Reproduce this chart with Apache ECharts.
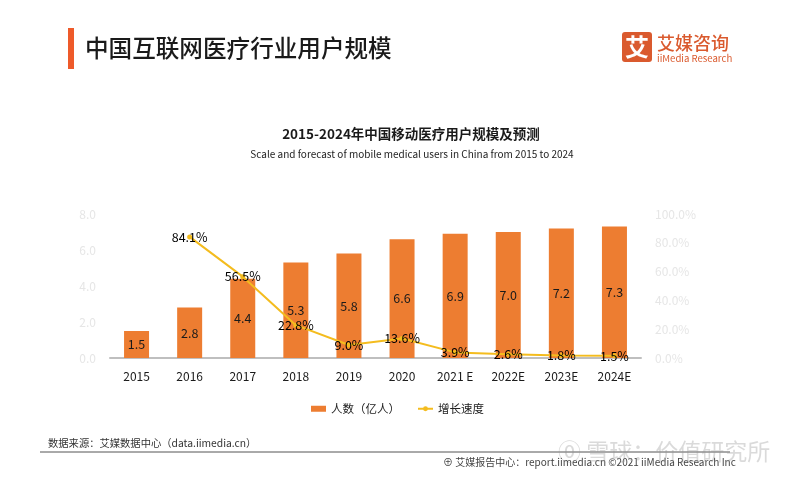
<!DOCTYPE html>
<html><head><meta charset="utf-8">
<script src="https://cdn.jsdelivr.net/npm/echarts@6/dist/echarts.min.js"></script>
<style>html,body{margin:0;padding:0;background:#fff}#c{width:800px;height:479px}</style>
</head><body><div id="c"></div>
<script>
var categories = ['2015','2016','2017','2018','2019','2020','2021 E','2022E','2023E','2024E'];
var users = [1.5, 2.8, 4.4, 5.3, 5.8, 6.6, 6.9, 7.0, 7.2, 7.3];
var growth = [null, 84.1, 56.5, 22.8, 9.0, 13.6, 3.9, 2.6, 1.8, 1.5];
var seriesNames = ['人数（亿人）', '增长速度'];

var FONT = '"Noto Sans CJK SC", "Noto Sans", sans-serif';
var chart = echarts.init(document.getElementById('c'), null, {renderer: 'canvas'});
chart.setOption({
  backgroundColor: '#fff',
  textStyle: {fontFamily: FONT},
  title: [
    {text: '2015-2024年中国移动医疗用户规模及预测', left: 406, top: 122, textAlign: 'center',
     textStyle: {fontSize: 13.5, fontWeight: 'bold', color: '#1a1a1a', fontFamily: FONT}},
    {text: 'Scale and forecast of mobile medical users in China from 2015 to 2024', left: 407, top: 144, textAlign: 'center',
     textStyle: {fontSize: 10, fontWeight: 'normal', color: '#222', fontFamily: FONT}}
  ],
  legend: {
    left: 306, top: 398, itemGap: 17, itemWidth: 15, itemHeight: 6,
    textStyle: {fontSize: 11.5, color: '#222', fontFamily: FONT},
    data: [{name: seriesNames[0], icon: 'rect'}, {name: seriesNames[1]}]
  },
  grid: {left: 110, right: 159, top: 214, bottom: 121, containLabel: false},
  xAxis: {
    type: 'category', data: categories,
    axisLine: {lineStyle: {color: '#bfbfbf', width: 2}},
    axisTick: {show: false},
    axisLabel: {color: '#1a1a1a', fontSize: 12, margin: 12, fontFamily: FONT}
  },
  yAxis: [
    {type: 'value', min: 0, max: 8, interval: 2,
     axisLine: {show: false}, axisTick: {show: false}, splitLine: {show: false},
     axisLabel: {color: '#e6e6e6', fontSize: 12, margin: 14, formatter: function(v){return v.toFixed(1);}}},
    {type: 'value', min: 0, max: 100, interval: 20,
     axisLine: {show: false}, axisTick: {show: false}, splitLine: {show: false},
     axisLabel: {color: '#e6e6e6', fontSize: 12, margin: 14, formatter: function(v){return v.toFixed(1) + '%';}}}
  ],
  series: [
    {name: seriesNames[0], type: 'bar', data: users, barWidth: 25,
     itemStyle: {color: '#ED7D31'},
     label: {show: true, position: 'inside', color: '#1a1a1a', fontSize: 12.5,
             formatter: function(p){return p.value.toFixed(1);}}},
    {name: seriesNames[1], type: 'line', yAxisIndex: 1, data: growth,
     symbol: 'circle', symbolSize: 5, showSymbol: true,
     lineStyle: {color: '#F4BC1E', width: 2}, itemStyle: {color: '#F4BC1E'},
     label: {show: true, position: 'inside', color: '#000', fontSize: 12.5,
             formatter: function(p){return p.value == null ? '' : p.value.toFixed(1) + '%';}},
     z: 5}
  ],
  graphic: [
    {type: 'rect', shape: {x: 68, y: 28, width: 6, height: 41}, style: {fill: '#EE5A2A'}},
    {type: 'text', x: 85, y: 48, style: {text: '中国互联网医疗行业用户规模', font: '500 23.6px ' + FONT, fill: '#1a1a1a', textVerticalAlign: 'middle'}},
    {type: 'rect', shape: {x: 622, y: 32, width: 30, height: 30, r: 3}, style: {fill: '#DA5A2E'}},
    {type: 'text', x: 637, y: 47, style: {text: '艾', font: 'bold 24px ' + FONT, fill: '#fff', textAlign: 'center', textVerticalAlign: 'middle'}},
    {type: 'text', x: 657, y: 43, style: {text: '艾媒咨询', font: '500 18px ' + FONT, fill: '#DA5A2E', textVerticalAlign: 'middle'}},
    {type: 'text', x: 657, y: 58, style: {text: 'iiMedia Research', font: '9.6px ' + FONT, fill: '#DA5A2E', textVerticalAlign: 'middle'}},
    {type: 'text', x: 48, y: 443, style: {text: '数据来源：艾媒数据中心（data.iimedia.cn）', font: '10.3px ' + FONT, fill: '#333', textVerticalAlign: 'middle'}},
    {type: 'line', shape: {x1: 40, y1: 452, x2: 730, y2: 452}, style: {stroke: '#555', lineWidth: 1}},
    {type: 'text', x: 443, y: 462, style: {text: '⊕ 艾媒报告中心：report.iimedia.cn ©2021 iiMedia Research Inc', font: '10px ' + FONT, fill: '#444', textVerticalAlign: 'middle'}},
    {type: 'text', x: 558, y: 451, style: {text: '⓪ 雪球：价值研究所', font: '23px ' + FONT, fill: 'rgba(150,150,150,0.35)', textVerticalAlign: 'middle'}}
  ]
});
</script></body></html>
